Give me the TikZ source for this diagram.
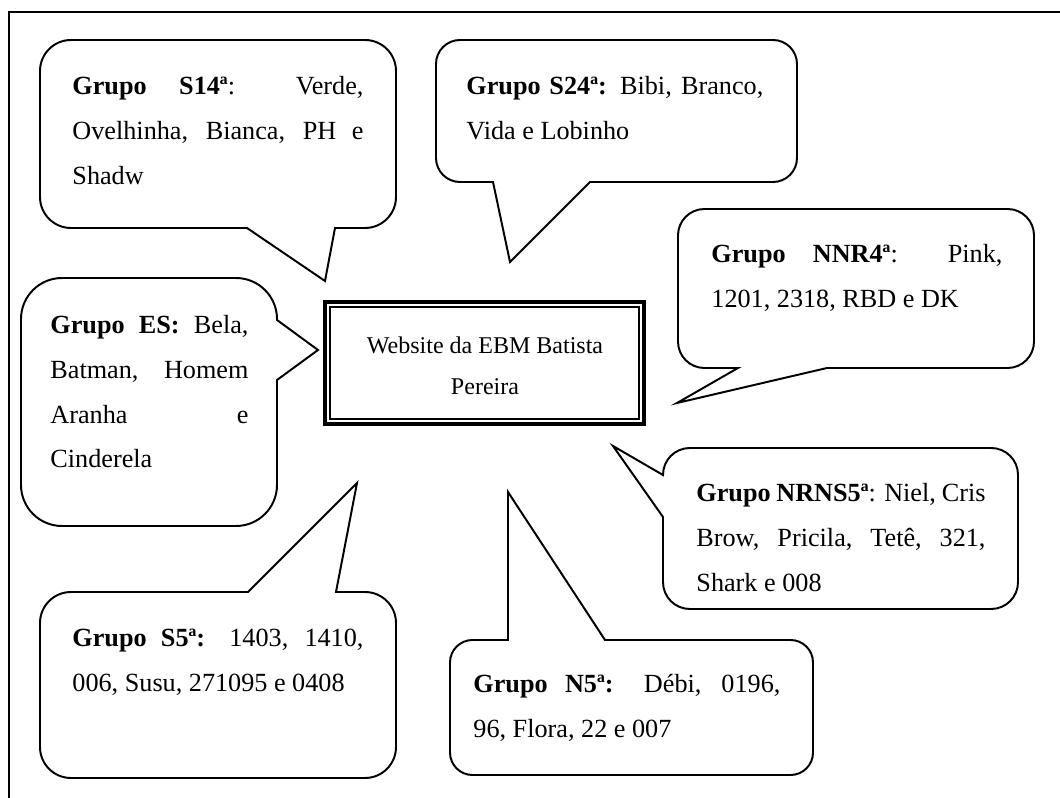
\documentclass[tikz,border=0pt]{standalone}
\usepackage{fontspec}
\setmainfont{Liberation Serif}

\tikzset{
	balao/.style={line width=0.9pt, line join=miter},
	texto/.style={anchor=base west, inner sep=0pt, align=justify,
		font=\fontsize{12}{20.4}\selectfont},
}

\begin{document}
\begin{tikzpicture}[x=0.458pt,y=-0.458pt]
		\useasboundingbox (0,0) rectangle (1060,798);
		\draw [line width=0.9pt] (1060,12) -- (9,12) -- (9,798);
		% caixa central
		\draw [line width=1.4pt] (325,302) rectangle (644,424);
		\draw [line width=0.9pt] (330,307) rectangle (639,419);
		\node [anchor=base, inner sep=0pt, align=center,
		font=\fontsize{11}{18.8}\selectfont] (site) at (485,395)
		{Website da EBM Batista\\Pereira};
		% baloes
		\draw [balao] (200,40) [rounded corners=14.2pt] -- (396,40) -- (396,228)
		[sharp corners] -- (335,228) -- (325,281) -- (247,228)
		[rounded corners=14.2pt] -- (40,228) -- (40,40) -- cycle;
		\draw [balao] (600,40) [rounded corners=11pt] -- (797,40) -- (797,182)
		[sharp corners] -- (590,182) -- (510,262) -- (493,182)
		[rounded corners=11pt] -- (436,182) -- (436,40) -- cycle;
		\draw [balao] (850,209) [rounded corners=12.1pt] -- (1034,209) -- (1034,368)
		[sharp corners] -- (827,368) -- (677,403) -- (738,368)
		[rounded corners=12.1pt] -- (678,368) -- (678,209) -- cycle;
		\draw [balao] (150,278) [rounded corners=18.8pt] -- (277,278)
		[sharp corners] -- (277,320) -- (318,350) -- (277,380)
		[rounded corners=18.8pt] -- (277,526) -- (21,526) -- (21,278) -- cycle;
		\draw [balao] (850,448) [rounded corners=12.3pt] -- (1018,448) -- (1018,609) -- (663,609)
		[sharp corners] -- (663,517) -- (613,446) -- (663,475)
		[rounded corners=12.3pt] -- (663,448) -- cycle;
		\draw [balao] (200,778) [rounded corners=14.2pt] -- (40,778) -- (40,592)
		[sharp corners] -- (248,592) -- (357,483) -- (336,592)
		[rounded corners=14.2pt] -- (396,592) -- (396,778) -- cycle;
		\draw [balao] (630,775) [rounded corners=10.3pt] -- (450,775) -- (450,640)
		[sharp corners] -- (508,640) -- (508,492) -- (605,640)
		[rounded corners=10.3pt] -- (813,640) -- (813,775) -- cycle;
		% textos
		\node [texto, text width=133.3pt] (s14) at (72,95)
		{\textbf{Grupo S14ª}: Verde,\linebreak Ovelhinha, Bianca, PH e\linebreak Shadw};
		\node [texto, text width=136pt] (s24) at (466,95)
		{\textbf{Grupo S24ª:} Bibi, Branco,\linebreak Vida e Lobinho};
		\node [texto, text width=133.3pt] (nnr4) at (711,263)
		{\textbf{Grupo NNR4ª}: Pink,\linebreak 1201, 2318, RBD e DK};
		\node [texto, text width=90.7pt] (es) at (50,334)
		{\textbf{Grupo ES:} Bela,\linebreak Batman, Homem\linebreak Aranha e\linebreak Cinderela};
		\node [texto, text width=132.4pt] (nrns5) at (696,502)
		{\textbf{Grupo NRNS5ª}: Niel, Cris\linebreak Brow, Pricila, Tetê, 321,\linebreak Shark e 008};
		\node [texto, text width=133.3pt] (s5) at (72,647)
		{\textbf{Grupo S5ª:} 1403, 1410,\linebreak 006, Susu, 271095 e 0408};
		\node [texto, text width=140.6pt] (n5) at (473,693)
		{\textbf{Grupo N5ª:} Débi, 0196,\linebreak 96, Flora, 22 e 007};
\end{tikzpicture}
\end{document}
